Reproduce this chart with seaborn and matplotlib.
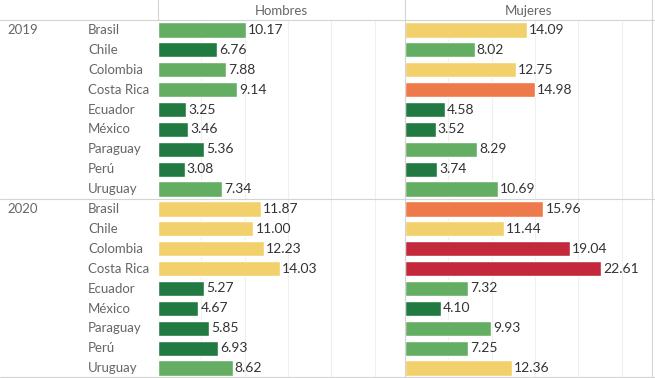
import numpy as np
import pandas as pd
import matplotlib
matplotlib.use("Agg")
import matplotlib.pyplot as plt
import seaborn as sns

years = ["2019", "2020"]
countries = ["Brasil", "Chile", "Colombia", "Costa Rica", "Ecuador",
             "México", "Paraguay", "Perú", "Uruguay"]
hombres_2019 = [10.17, 6.76, 7.88, 9.14, 3.25, 3.46, 5.36, 3.08, 7.34]
hombres_2020 = [11.87, 11.00, 12.23, 14.03, 5.27, 4.67, 5.85, 6.93, 8.62]
mujeres_2019 = [14.09, 8.02, 12.75, 14.98, 4.58, 3.52, 8.29, 3.74, 10.69]
mujeres_2020 = [15.96, 11.44, 19.04, 22.61, 7.32, 4.10, 9.93, 7.25, 12.36]

bin_edges = [0, 7, 10.9, 14.5, 17, 100]
bin_names = ["b1", "b2", "b3", "b4", "b5"]
bin_colors = ["#217a41", "#64ae64", "#f2d16c", "#ee7a4b", "#c3293b"]

rows = []
for sexo, vals in [("Hombres", hombres_2019 + hombres_2020),
                   ("Mujeres", mujeres_2019 + mujeres_2020)]:
    for i, v in enumerate(vals):
        rows.append({"year": years[i // 9], "country": countries[i % 9],
                     "row": i, "sexo": sexo, "value": v})
df = pd.DataFrame(rows)
df["bin"] = pd.cut(df["value"], bin_edges, labels=bin_names).astype(str)
palette = dict(zip(bin_names, bin_colors))

sns.set_style("white")
plt.rcParams["font.family"] = ["Lato", "DejaVu Sans"]

W, H = 655, 378
fig = plt.figure(figsize=(W / 100, H / 100), dpi=100)

top = 20
xlim = (0, 28.5)
panels = [("Hombres", 158, 405), ("Mujeres", 405, 652)]
line_col = "#d4d4d4"
for sexo, x0, x1 in panels:
    ax = fig.add_axes([x0 / W, 0, (x1 - x0) / W, (H - top) / H])
    sub = df[df["sexo"] == sexo].copy()
    sub["row"] = sub["row"].astype(str)
    sns.barplot(data=sub, x="value", y="row", hue="bin", palette=palette,
                dodge=False, orient="h", width=0.76, legend=False,
                order=[str(i) for i in range(18)], ax=ax, saturation=1)
    ax.set_xlim(*xlim)
    ax.set_ylim(17.5, -0.5)
    for g in np.arange(5, 28, 5):
        ax.axvline(g, color="#efefef", lw=0.8, zorder=0)
    for r, v in zip(range(18), sub["value"]):
        ax.text(v + 0.25, r, f"{v:.2f}", va="center", ha="left",
                fontsize=10, color="#333333")
    ax.set_xticks([])
    ax.set_yticks([])
    ax.set_xlabel("")
    ax.set_ylabel("")
    for s in ax.spines.values():
        s.set_visible(False)
    fig.text((x0 + x1) / 2 / W, 1 - 11 / H, sexo, ha="center", va="center",
             fontsize=9.5, color="#666666")

# row headers
for i in range(18):
    y = 1 - (top + 19.9 * (i + 0.5)) / H
    fig.text(88 / W, y, countries[i % 9], ha="left", va="center",
             fontsize=9.5, color="#666666")
for k, yr in enumerate(years):
    y = 1 - (top + 19.9 * (9 * k + 0.5)) / H
    fig.text(7 / W, y, yr, ha="left", va="center", fontsize=9.5,
             color="#666666")

# table lines
fig.add_artist(plt.Line2D([0, 1], [1 - top / H, 1 - top / H],
                          color=line_col, lw=0.8))
ymid = 1 - (top + 19.9 * 9) / H
fig.add_artist(plt.Line2D([0, 1], [ymid, ymid], color=line_col, lw=0.8))
fig.add_artist(plt.Line2D([0, 1], [1.5 / H, 1.5 / H], color=line_col, lw=0.8))
fig.add_artist(plt.Line2D([158 / W, 158 / W], [1 - top / H, 1],
                          color=line_col, lw=0.8))
fig.add_artist(plt.Line2D([405 / W, 405 / W], [0, 1], color=line_col, lw=0.8))
fig.add_artist(plt.Line2D([652 / W, 652 / W], [0, 1], color=line_col, lw=0.8))

fig.savefig("out.png", dpi=100)
